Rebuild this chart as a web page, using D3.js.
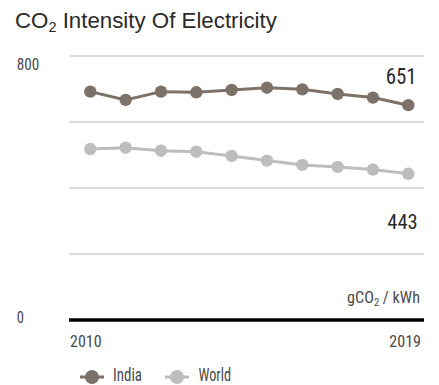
<!DOCTYPE html>
<html><head><meta charset="utf-8">
<script src="https://cdn.jsdelivr.net/npm/d3@7"></script>
<style>body{margin:0;background:#fff;}</style></head>
<body><div id="chart"></div>
<script>
const years = [2010,2011,2012,2013,2014,2015,2016,2017,2018,2019];
const india = [692,667,692,690,697,704,699,685,674,651];
const world = [518,522,513,510,497,483,470,464,456,443];
const yTicks = [0,200,400,600,800];
const yLabelTicks = [0,800];
const seriesNames = ["India","World"];
const colors = ["#7d7269","#bdbdbd"];

const W = 439, H = 385;
const svg = d3.select("#chart").append("svg").attr("width",W).attr("height",H);
const F = "'Liberation Sans',Arial,Helvetica,sans-serif";
const NF = "'Roboto Condensed','Liberation Sans',sans-serif";
const TXT = "#4a4a4a";

function squeeze(sel, w){
  const ax = +sel.attr("x");
  const bw = sel.node().getBBox().width;
  const s = w / bw;
  sel.attr("transform", `translate(${ax},0) scale(${s},1) translate(${-ax},0)`);
  return sel;
}

const x = d3.scaleLinear().domain([2010,2019]).range([90.3,408.3]);
const y = d3.scaleLinear().domain([0,800]).range([320,56]);
const gx0 = 69, gx1 = 424;

// title
const t = svg.append("text").attr("x",15).attr("y",27.5)
  .attr("font-family",F).attr("font-size",20).attr("fill","#2a2a2a");
t.append("tspan").text("CO");
t.append("tspan").attr("class","sub").text("2").attr("font-size",13).attr("dy",4.5);
t.append("tspan").text(" Intensity Of Electricity").attr("dy",-4.5);
{
  const w = t.node().getBBox().width;
  const fs = 20 * 262 / w;
  t.attr("font-size", fs.toFixed(2));
  t.select(".sub").attr("font-size", (fs*0.65).toFixed(2));
}

// gridlines
svg.append("g").selectAll("line").data(yTicks.filter(d=>d>0)).join("line")
  .attr("x1",gx0).attr("x2",gx1).attr("y1",d=>y(d)).attr("y2",d=>y(d))
  .attr("stroke","#cfcfcf").attr("stroke-width",1.5);
svg.append("line").attr("x1",gx0).attr("x2",gx1).attr("y1",y(0)).attr("y2",y(0))
  .attr("stroke","#000").attr("stroke-width",3.5);

// y labels
svg.append("g").selectAll("text").data(yLabelTicks).join("text")
  .attr("x",16.7).attr("y",d=>y(d)+(d===800?14:2.7))
  .attr("font-family",NF).attr("font-size",17).attr("fill",TXT).text(d=>d)
  .each(function(d){ squeeze(d3.select(this), d===800?22.6:7.2); });

// x labels
squeeze(svg.append("text").attr("x",70).attr("y",347.3).attr("font-family",NF).attr("font-size",17).attr("fill",TXT).text(years[0]), 31.7);
squeeze(svg.append("text").attr("x",421).attr("y",347.3).attr("text-anchor","end").attr("font-family",NF).attr("font-size",17).attr("fill",TXT).text(years[years.length-1]), 31.7);

// unit
const u = svg.append("text").attr("x",420).attr("y",303).attr("text-anchor","end")
  .attr("font-family",NF).attr("font-size",16).attr("fill",TXT);
u.append("tspan").text("gCO");
u.append("tspan").text("2").attr("font-size",10.5).attr("dy",3.5);
u.append("tspan").text(" / kWh").attr("dy",-3.5);
squeeze(u, 73);

// series
const line = d3.line().x((d,i)=>x(years[i])).y(d=>y(d));
[india, world].forEach((s,k)=>{
  const g = svg.append("g");
  g.append("path").datum(s).attr("d",line).attr("fill","none").attr("stroke",colors[k]).attr("stroke-width",3);
  g.selectAll("circle").data(s).join("circle").attr("cx",(d,i)=>x(years[i])).attr("cy",d=>y(d)).attr("r",6.2).attr("fill",colors[k]);
});

// end labels
squeeze(svg.append("text").attr("x",416.7).attr("y",y(india[india.length-1])-21).attr("text-anchor","end")
  .attr("font-family",NF).attr("font-size",21.5).attr("fill","#2a2a2a").text(india[india.length-1]), 31);
squeeze(svg.append("text").attr("x",417.7).attr("y",y(world[world.length-1])+55.5).attr("text-anchor","end")
  .attr("font-family",NF).attr("font-size",21).attr("fill","#2a2a2a").text(world[world.length-1]), 30.4);

// legend
const lg = [{cx:92,tx:113,w:29},{cx:177,tx:198.5,w:32.5}];
seriesNames.forEach((n,k)=>{
  const g = svg.append("g");
  g.append("line").attr("x1",lg[k].cx-12).attr("x2",lg[k].cx+12).attr("y1",377).attr("y2",377).attr("stroke",colors[k]).attr("stroke-width",3);
  g.append("circle").attr("cx",lg[k].cx).attr("cy",377).attr("r",7).attr("fill",colors[k]);
  squeeze(g.append("text").attr("x",lg[k].tx).attr("y",381.5).attr("font-family",NF).attr("font-size",17.5).attr("fill",TXT).text(n), lg[k].w);
});
</script></body></html>
